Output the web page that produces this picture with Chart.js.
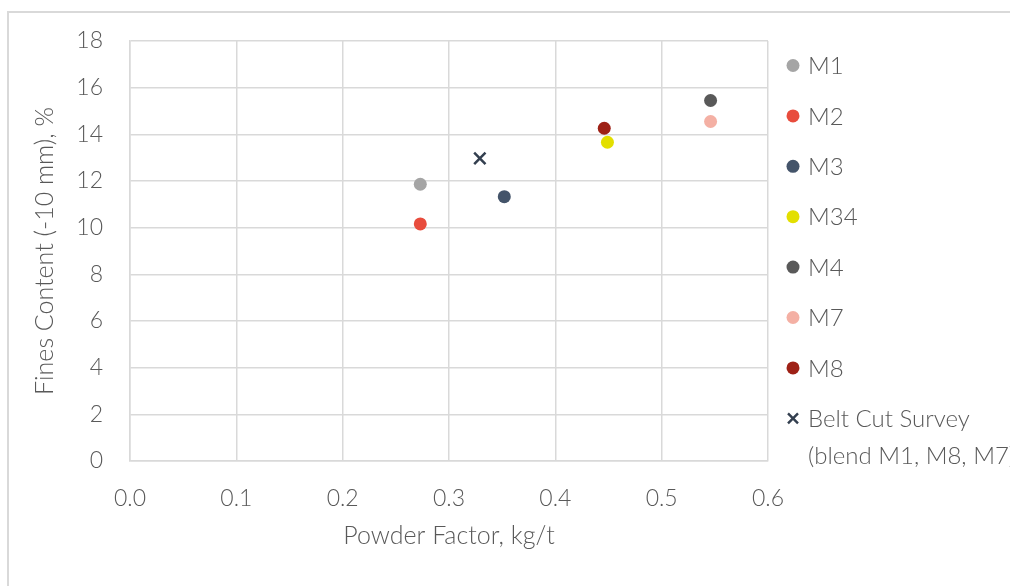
<!DOCTYPE html>
<html>
<head>
<meta charset="utf-8">
<script src="https://cdn.jsdelivr.net/npm/chart.js@4/dist/chart.umd.min.js"></script>
<style>
  html, body { margin: 0; padding: 0; background: #fff; }
  #wrap { position: relative; width: 1010px; height: 586px; overflow: hidden; }
  #frame { position: absolute; left: 7px; top: 11px; width: 1100px; height: 700px; border: 2px solid #d9d9d9; box-sizing: border-box; }
  canvas { position: absolute; left: 0; top: 0; }
</style>
</head>
<body>
<div id="wrap">
  <div id="frame"></div>
  <canvas id="scatterChart" width="1010" height="586"></canvas>
</div>
<script>
const seriesNames = ['M1', 'M2', 'M3', 'M34', 'M4', 'M7', 'M8', 'Belt Cut Survey'];
const legendLines = [['M1'], ['M2'], ['M3'], ['M34'], ['M4'], ['M7'], ['M8'], ['Belt Cut Survey', '(blend M1, M8, M7)']];
const powderFactor = [0.273, 0.273, 0.352, 0.449, 0.546, 0.546, 0.446, 0.329];
const finesContent = [11.86, 10.16, 11.33, 13.66, 15.45, 14.55, 14.26, 12.97];
const seriesColors = ['#a5a5a5', '#e84c3d', '#44546a', '#e3df00', '#595959', '#f4b0a4', '#9e2116', '#333f4f'];
const pointStyles = ['circle', 'circle', 'circle', 'circle', 'circle', 'circle', 'circle', 'crossRot'];
const xTicks = [0, 0.1, 0.2, 0.3, 0.4, 0.5, 0.6];
const yTicks = [0, 2, 4, 6, 8, 10, 12, 14, 16, 18];

const fontFamily = "'Lato Light', Lato, 'Open Sans', sans-serif";
const textColor = '#595959';
const gridColor = '#d9d9d9';

const datasets = seriesNames.map((name, i) => ({
  label: name,
  data: [{ x: powderFactor[i], y: finesContent[i] }],
  pointStyle: pointStyles[i],
  backgroundColor: seriesColors[i],
  borderColor: seriesColors[i],
  borderWidth: pointStyles[i] === 'crossRot' ? 2.5 : 0,
  pointRadius: pointStyles[i] === 'crossRot' ? 8 : 6.5
}));

// legend drawn by hand so the last entry can wrap onto two lines
const sideLegend = {
  id: 'sideLegend',
  afterDraw(chart) {
    const ctx = chart.ctx;
    ctx.save();
    ctx.font = '300 24px ' + fontFamily;
    ctx.textBaseline = 'middle';
    ctx.textAlign = 'left';
    chart.data.datasets.forEach((ds, i) => {
      const y = 65.5 + i * 50.4;
      const x = 793;
      if (ds.pointStyle === 'crossRot') {
        ctx.strokeStyle = ds.borderColor;
        ctx.lineWidth = 2.4;
        ctx.beginPath();
        ctx.moveTo(x - 5, y - 5); ctx.lineTo(x + 5, y + 5);
        ctx.moveTo(x + 5, y - 5); ctx.lineTo(x - 5, y + 5);
        ctx.stroke();
      } else {
        ctx.fillStyle = ds.backgroundColor;
        ctx.beginPath();
        ctx.arc(x, y, 6.5, 0, Math.PI * 2);
        ctx.fill();
      }
      ctx.fillStyle = textColor;
      legendLines[i].forEach((line, j) => {
        ctx.fillText(line, 808, y + 1 + j * 37);
      });
    });
    ctx.restore();
  }
};

new Chart(document.getElementById('scatterChart'), {
  type: 'scatter',
  data: { datasets: datasets },
  options: {
    responsive: false,
    animation: false,
    layout: { padding: { left: 0, top: 41, right: 242, bottom: 0 } },
    plugins: {
      legend: { display: false },
      tooltip: { enabled: false }
    },
    scales: {
      x: {
        type: 'linear',
        min: 0,
        max: 0.6,
        afterFit: (scale) => { scale.height = 125; },
        afterBuildTicks: (scale) => { scale.ticks = xTicks.map(v => ({ value: v })); },
        grid: { color: gridColor, lineWidth: 1.5, drawTicks: false },
        border: { color: gridColor, width: 1.5 },
        ticks: {
          padding: 24,
          color: textColor,
          font: { family: fontFamily, size: 23, weight: 300 },
          callback: (v) => Number(v).toFixed(1)
        },
        title: {
          display: true,
          text: 'Powder Factor, kg/t',
          color: textColor,
          font: { family: fontFamily, size: 25, weight: 300 },
          padding: { top: 0, bottom: 35 }
        }
      },
      y: {
        type: 'linear',
        min: 0,
        max: 18,
        afterFit: (scale) => { scale.width = 130; },
        afterBuildTicks: (scale) => { scale.ticks = yTicks.map(v => ({ value: v })); },
        grid: { color: gridColor, lineWidth: 1.5, drawTicks: false },
        border: { color: gridColor, width: 1.5 },
        ticks: {
          padding: 27,
          color: textColor,
          font: { family: fontFamily, size: 23, weight: 300 },
          callback: (v) => String(v)
        },
        title: {
          display: true,
          text: 'Fines Content (-10 mm), %',
          color: textColor,
          font: { family: fontFamily, size: 25, weight: 300 },
          padding: { top: 30, bottom: 0 }
        }
      }
    }
  },
  plugins: [sideLegend]
});
</script>
</body>
</html>
